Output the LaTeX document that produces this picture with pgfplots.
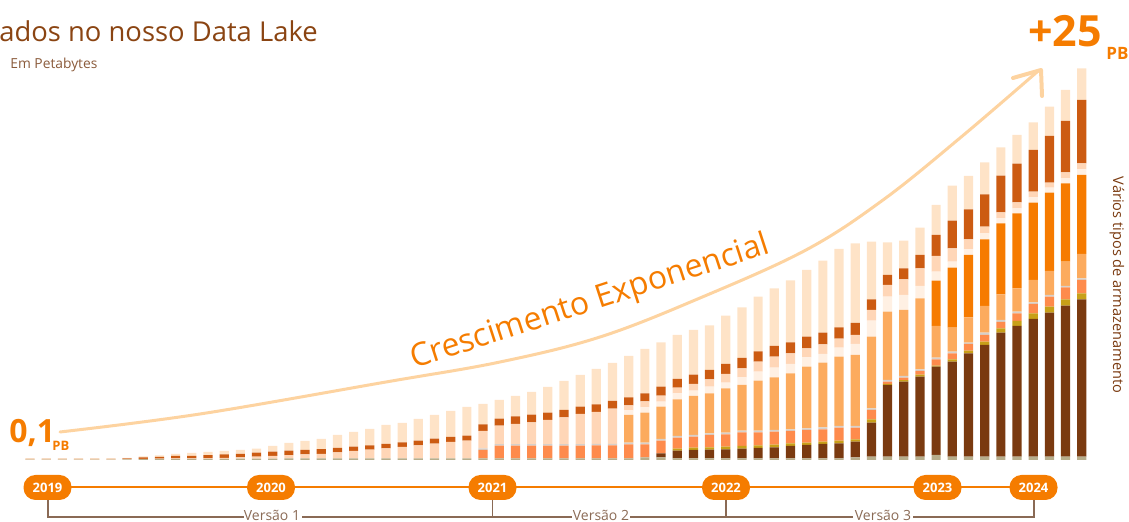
\documentclass[border=0pt]{standalone}
\usepackage{fontspec}
\setmainfont{Open Sans}
\usepackage{pgfplots}
\pgfplotsset{compat=1.18}
\usepackage{pgfplotstable}

\definecolor{cBase}{HTML}{B7AE8C}
\definecolor{cBrown}{HTML}{7A3A10}
\definecolor{cOlive}{HTML}{C8A018}
\definecolor{cSalmon}{HTML}{FE8B4C}
\definecolor{cGreyLine}{HTML}{D6D0CA}
\definecolor{cLightOr}{HTML}{FCAB5E}
\definecolor{cBright}{HTML}{F67B00}
\definecolor{cCream}{HTML}{FFF0E3}
\definecolor{cPeach}{HTML}{FFD6B7}
\definecolor{cDarkOr}{HTML}{CC5B12}
\definecolor{cTop}{HTML}{FEE3C7}
\definecolor{cTitle}{HTML}{8A4412}
\definecolor{cSub}{HTML}{8A5A3A}
\definecolor{cArrow}{HTML}{FDD3A0}
\definecolor{cOrange}{HTML}{F57C00}
\definecolor{cVer}{HTML}{8A6A55}

% heights per storage layer, in pixels of the source chart
\pgfplotstableread{
x L1 L2 L3 L4 L5 L6 L7 L8 L9 L10 L11
0 0.4 0 0 0 0 0 0 0 0.4 0.3 0.4
1 0.4 0 0 0 0 0 0 0 0.4 0.3 0.4
2 0.4 0 0 0 0 0 0 0 0.4 0.3 0.4
3 0.4 0 0 0 0 0 0 0 0.4 0.3 0.4
4 0.4 0 0 0 0 0 0 0 0.4 0.3 0.4
5 0.4 0 0 0 0 0 0 0 0.4 0.3 0.4
6 0.5 0 0 0 0 0 0 0 0.5 0.5 0.5
7 0.8 0 0 0 0 0 0 0 0.4 1.5 0.8
8 1 0 0 0 0 0 0 0 0.4 1.8 1.3
9 1 0 0 0 0 0 0 0 0.5 2.5 2
10 1.2 0 0 0 0 0 0 0 0.3 2.7 2.8
11 1.2 0 0 0 0 0 0 0 0.6 3 3.2
12 1.2 0 0 0 0 0 0 0 1 3.3 3.5
13 1.3 0 0 0 0 0 0 0 1.3 3.6 3.8
14 1.3 0 0 0 0 0 0 0 2 4 4
15 1.4 0 0 0 0 0 0 0 2.6 4.3 5.7
16 1.5 0 0 0 0 0 0 0 3.3 4.5 7.7
17 1.5 0 0 0 0 0 0 0 4 4.5 9
18 1.5 0 0 0 0 0 0 0 4.7 4.6 10.2
19 1.5 0 0 0 0 0 0 0 6 4.5 13
20 1.6 0 0 0 0 0 0 0 7.4 4.3 14.7
21 1.6 0 0 0 0 0 0 0 8.7 4.4 16.3
22 1.7 0 0 0 0 0 0 0 10 4.3 19
23 1.7 0 0 0 0 0 0 0 11.3 4.7 19.3
24 1.7 0 0 0 0 0 0 0 13 4.6 21.7
25 1.7 0 0 0 0 0 0 0 14.6 5 23.7
26 1.7 0 0 0 0 0 0 0 16.3 5 26
27 1.7 0 0 0 0 0 0 0 17.6 5 28.7
28 1.7 0 0 8.3 1.5 0 0 0 17.5 6.7 20.3
29 1.7 0 0 12.6 1.5 0 0 0 18.5 7 18.7
30 1.7 0 0 12.6 1.5 0 0 0 20.2 7.7 20.3
31 1.7 0 0 12.6 1.5 0 0 0 21.9 7.6 22.7
32 1.7 0 0 12.6 1.5 0 0 0 24.2 7.3 25.7
33 1.7 0 0 12.6 1.5 0 0 0 26.9 7.3 29
34 1.7 0 0 12.6 1.5 0 0 0 30.2 7.3 31.7
35 1.7 0 0 12.9 1.5 0 0 0 31.9 7.7 35.3
36 1.7 0 0 13 1.5 0 0 0 35.1 7.7 38
37 1.7 0 0 14 1.6 27.7 0 4.7 5 8 41.3
38 2.7 0 0 13 1.6 30 0 5.4 6 8 44.3
39 2.7 4 0 12.6 1.7 32.3 0 5 6 9 44.4
40 1.7 7.6 2 11 1.7 36.7 0 6 5.6 8.7 44
41 1.7 8.3 2.3 11 1.7 39 0 5.3 6.7 9.3 44.7
42 1.7 8.6 2.4 12.3 1.7 40 0 6.6 7.4 9.3 44.7
43 1.7 9 2.6 12.4 1.6 44.4 0 5.6 8.7 10 48.3
44 1.7 9.6 2.7 13.7 1.6 45.7 0 7.7 9 10.3 50.7
45 1.7 10.3 2.7 13 1.6 50 0 9 10 10.4 54.6
46 1.7 11 2.6 13 1.7 52.7 0 9.6 11 10.7 57.7
47 1.7 12.3 2.7 12.3 1.7 56 0 9.3 10.7 11 62
48 1.7 13.3 2.3 12.7 1.7 61.6 0 9.4 9 11.6 66.7
49 1.7 14.3 2.3 12.4 2 64.6 0 8.7 9.7 11.6 72
50 1.7 15 2.6 13 1.7 69.3 0 9 9 11.4 78.3
51 2.5 15.8 2.4 11.6 1.7 71 0 11 9 12 79.7
52 3.3 34 3.4 9.3 1.7 71.6 0 16 10.7 10.7 57.6
53 3.3 71.7 1 2.3 1.7 68.3 0 15 11.7 10 32.7
54 3.3 75 1.5 2.5 1.7 66 0 15 15.7 11 27.6
55 3.3 80 2 3.7 1.7 71 0 12.3 17.7 13.3 27.3
56 5 88.3 1 6.4 1.6 31.7 45.3 9 15.7 21 30
57 3.3 95 2.4 6 1.6 24 60 6 13.4 27.6 35
58 3.3 103.4 2.6 6.7 1.3 25.4 62.3 5.7 10 30 33.3
59 3.3 111.7 3.3 6.7 2.3 26.7 66.7 6 6.6 32.4 32
60 3.3 124 4.4 6.3 2 25.7 71 5 6 36.6 28.4
61 3.3 130.7 5 7.7 1.6 23.4 75 5 6 38.6 28.7
62 3.3 137.7 5.7 9.3 1.7 22.3 77.3 5.4 5.6 41.7 27.7
63 3.3 144 6 10 1.7 24 78.3 5 5 46.7 29.3
64 3.3 151 6.4 12 1.3 24.3 78.4 5 6 51.3 31
65 3.3 157.4 6 13.3 1.7 24.3 79 5.7 6 63.3 31.7
}\lakedata

\begin{document}
\begin{tikzpicture}
\useasboundingbox (0,0) rectangle (564.5pt,261pt);
\begin{axis}[
    at={(0pt,31pt)}, anchor=south west,
    scale only axis, width=564.5pt, height=230pt,
    xmin=-1.854, xmax=67.92, ymin=0, ymax=460,
    hide axis, clip=false,
    ybar stacked, bar width=4.6pt,
]
\addplot[fill=cBase, draw=none] table[x=x, y=L1] {\lakedata};
\addplot[fill=cBrown, draw=none] table[x=x, y=L2] {\lakedata};
\addplot[fill=cOlive, draw=none] table[x=x, y=L3] {\lakedata};
\addplot[fill=cSalmon, draw=none] table[x=x, y=L4] {\lakedata};
\addplot[fill=cGreyLine, draw=none] table[x=x, y=L5] {\lakedata};
\addplot[fill=cLightOr, draw=none] table[x=x, y=L6] {\lakedata};
\addplot[fill=cBright, draw=none] table[x=x, y=L7] {\lakedata};
\addplot[fill=cCream, draw=none] table[x=x, y=L8] {\lakedata};
\addplot[fill=cPeach, draw=none] table[x=x, y=L9] {\lakedata};
\addplot[fill=cDarkOr, draw=none] table[x=x, y=L10] {\lakedata};
\addplot[fill=cTop, draw=none] table[x=x, y=L11] {\lakedata};
\end{axis}

% decorations, in pixel coordinates of the source (origin top left)
\begin{scope}[x=0.5pt, y=-0.5pt, shift={(0pt,261pt)}]
\node[anchor=base west, inner sep=0, text=cTitle, font=\fontsize{13.7}{16}\selectfont] at (-1,41.5) {ados no nosso Data Lake};
\node[anchor=base west, inner sep=0, text=cSub, font=\fontsize{6.9}{8}\selectfont] at (10,69) {Em Petabytes};

\draw[cArrow, line width=1.5pt, line cap=round] plot[smooth, tension=0.6] coordinates {(60,432) (200,414) (386,382) (500,362) (600,337) (700,298) (806,250) (883,200) (960,138) (1037,72)};
\draw[cArrow, line width=2pt, line cap=round, line join=round] (1013,78) -- (1041,70) -- (1042,96);

\node[rotate=18, text=cOrange, font=\fontsize{16}{18}\selectfont] at (590,303) {Crescimento Exponencial};

\node[anchor=base west, inner sep=0, text=cOrange, font=\bfseries\fontsize{16}{18}\selectfont] at (9,443) {0,1};
\node[anchor=base west, inner sep=0, text=cOrange, font=\bfseries\fontsize{6.5}{8}\selectfont] at (52,451) {PB};
\node[anchor=base west, inner sep=0, text=cOrange, font=\bfseries\fontsize{21.5}{24}\selectfont] at (1028,47) {+25};
\node[anchor=base west, inner sep=0, text=cOrange, font=\bfseries\fontsize{8.5}{10}\selectfont] at (1106,60) {PB};

\node[rotate=-90, text=cBrown, font=\fontsize{7.3}{9}\selectfont] at (1117,285) {Vários tipos de armazenamento};

% timeline
\draw[cOrange, line width=0.75pt] (48,487) -- (1033,487);
\foreach \px/\yr in {47.5/2019, 271/2020, 492.5/2021, 726/2022, 937.5/2023, 1033.5/2024}{
  \node[fill=cOrange, rounded corners=6pt, minimum width=24pt, minimum height=12.5pt, inner sep=0, text=white, font=\bfseries\fontsize{6.5}{7}\selectfont] at (\px,487.5) {\yr};
}
\draw[cVer, line width=0.9pt] (48,500) -- (48,517) -- (244,517);
\draw[cVer, line width=0.9pt] (302,517) -- (572,517);
\draw[cVer, line width=0.9pt] (492.5,500) -- (492.5,517);
\draw[cVer, line width=0.9pt] (630,517) -- (853,517);
\draw[cVer, line width=0.9pt] (726,500) -- (726,517);
\draw[cVer, line width=0.9pt] (913,517) -- (1034,517) -- (1034,500);
\node[anchor=base, inner sep=0, text=cVer, font=\fontsize{7}{8}\selectfont] at (272,520.5) {Versão 1};
\node[anchor=base, inner sep=0, text=cVer, font=\fontsize{7}{8}\selectfont] at (601,520.5) {Versão 2};
\node[anchor=base, inner sep=0, text=cVer, font=\fontsize{7}{8}\selectfont] at (883,520.5) {Versão 3};
\end{scope}
\end{tikzpicture}
\end{document}
